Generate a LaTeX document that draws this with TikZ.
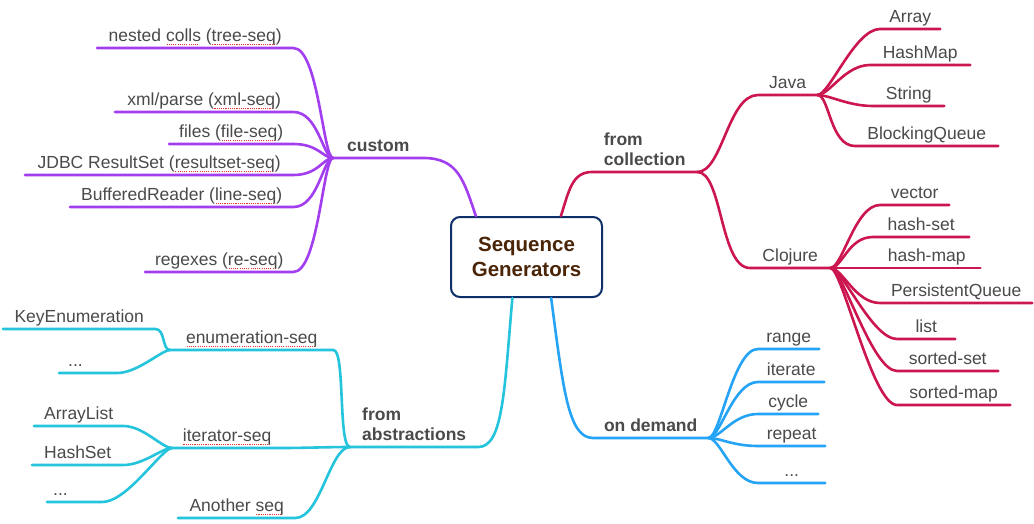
\documentclass[tikz,border=0pt]{standalone}
\usepackage{fontspec}
\setmainfont{Liberation Sans}
\usetikzlibrary{positioning}
\definecolor{Ink}{HTML}{4A4A4A}
\definecolor{RootLine}{HTML}{0E2F6A}
\definecolor{RootText}{HTML}{4A2508}
\definecolor{Custom}{HTML}{A23DF0}
\definecolor{Coll}{HTML}{CC1650}
\definecolor{Demand}{HTML}{25A4F6}
\definecolor{Abstr}{HTML}{24C4DC}
\definecolor{Squiggle}{HTML}{E8352E}
% red dotted mark under a word
\newcommand\spellmark[1]{\setbox0=\hbox{#1}\rlap{\color{Squiggle}\raisebox{-3.5pt}{\hbox to \wd0{\leaders\hbox to 2.2pt{\hss\rule{1.1pt}{1.1pt}\hss}\hfill}}}\box0\relax}
\tikzset{
  rootbox/.style={draw=RootLine,line width=2pt,fill=white,rounded corners=9pt,minimum width=151pt,minimum height=80pt,align=center,font=\fontsize{20.5}{25}\selectfont\bfseries,text=RootText},
  mainlabel/.style={font=\fontsize{17.5}{20}\selectfont\bfseries,text=Ink,align=left,inner xsep=0pt,inner ysep=2pt,text depth=4.5pt,anchor=south west},
  leaflabel/.style={font=\fontsize{17.5}{20}\selectfont,text=Ink,inner xsep=0pt,inner ysep=2pt,text height=13pt,text depth=4pt,anchor=south west},
  branch/.style={line width=2.6pt,line cap=round,line join=round}
}
\begin{document}
\begin{tikzpicture}[x=1pt,y=-1pt]
  \path[use as bounding box,fill=white] (0,0) rectangle (1034,524);
  \node[rootbox] (root) at (526.5,257) {Sequence\\Generators};

  % custom
  \node[mainlabel,minimum width=90pt,align=center] (custom) at (333,158) {custom};
  \node[leaflabel,minimum width=196pt] (nested) at (97,48) {nested \spellmark{colls} (\spellmark{tree-seq})};
  \node[leaflabel,minimum width=178pt] (xmlparse) at (115,112) {xml/parse (\spellmark{xml-seq})};
  \node[leaflabel,minimum width=124pt] (files) at (169,144) {files (\spellmark{file-seq})};
  \node[leaflabel,minimum width=268pt] (jdbc) at (25,175) {JDBC ResultSet (\spellmark{resultset-seq})};
  \node[leaflabel,minimum width=223pt] (buffered) at (70,207) {BufferedReader (\spellmark{line-seq})};
  \node[leaflabel,minimum width=148pt] (regexes) at (145,272) {regexes (\spellmark{re-seq})};
  \draw[branch,Custom] (root.141) .. controls +(-12,-35) and +(35,0) .. (custom.south east) -- (custom.south west);
  \draw[branch,Custom] (custom.south west) .. controls +(-10,0) and +(25,0) .. (nested.south east) -- (nested.south west);
  \draw[branch,Custom] (custom.south west) .. controls +(-10,0) and +(25,0) .. (xmlparse.south east) -- (xmlparse.south west);
  \draw[branch,Custom] (custom.south west) .. controls +(-10,0) and +(25,0) .. (files.south east) -- (files.south west);
  \draw[branch,Custom] (custom.south west) .. controls +(-10,0) and +(25,0) .. (jdbc.south east) -- (jdbc.south west);
  \draw[branch,Custom] (custom.south west) .. controls +(-10,0) and +(25,0) .. (buffered.south east) -- (buffered.south west);
  \draw[branch,Custom] (custom.south west) .. controls +(-10,0) and +(25,0) .. (regexes.south east) -- (regexes.south west);

  % from collection
  \node[mainlabel,minimum width=105pt] (fromcoll) at (592,172) {from\\collection};
  \node[leaflabel,minimum width=59pt] (java) at (758,95) {Java};
  \node[leaflabel,minimum width=80pt] (clojure) at (750,268) {Clojure};
  \node[leaflabel,minimum width=60pt] (array) at (880,29) {Array};
  \node[leaflabel,minimum width=100pt] (hashmap) at (870,65) {HashMap};
  \node[leaflabel,minimum width=71pt] (string) at (873,106) {String};
  \node[leaflabel,minimum width=143pt] (blocking) at (855,146) {BlockingQueue};
  \node[leaflabel,minimum width=69pt] (vector) at (880,205) {vector};
  \node[leaflabel,minimum width=96pt] (hset) at (873,237) {hash-set};
  \node[leaflabel,minimum width=107pt] (hmap) at (873,268) {hash-map};
  \node[leaflabel,minimum width=152pt] (pqueue) at (880,303) {PersistentQueue};
  \node[leaflabel,minimum width=58pt] (list) at (897,339) {list};
  \node[leaflabel,minimum width=101pt] (sset) at (897,371) {sorted-set};
  \node[leaflabel,minimum width=113pt] (smap) at (897,405) {sorted-map};
  \draw[branch,Coll] (root.50) .. controls +(8,-25) and +(-20,0) .. (fromcoll.south west) -- (fromcoll.south east);
  \draw[branch,Coll] (fromcoll.south east) .. controls +(25,0) and +(-30,0) .. (java.south west) -- (java.south east);
  \draw[branch,Coll] (fromcoll.south east) .. controls +(25,0) and +(-30,0) .. (clojure.south west) -- (clojure.south east);
  \draw[branch,Coll] (java.south east) .. controls +(12,0) and +(-25,0) .. (array.south west) -- (array.south east);
  \draw[branch,Coll] (java.south east) .. controls +(12,0) and +(-25,0) .. (hashmap.south west) -- (hashmap.south east);
  \draw[branch,Coll] (java.south east) .. controls +(12,0) and +(-25,0) .. (string.south west) -- (string.south east);
  \draw[branch,Coll] (java.south east) .. controls +(12,0) and +(-25,0) .. (blocking.south west) -- (blocking.south east);
  \draw[branch,Coll] (clojure.south east) .. controls +(12,0) and +(-25,0) .. (vector.south west) -- (vector.south east);
  \draw[branch,Coll] (clojure.south east) .. controls +(12,0) and +(-25,0) .. (hset.south west) -- (hset.south east);
  \draw[branch,Coll] (clojure.south east) -- (hmap.south west) -- (hmap.south east);
  \draw[branch,Coll] (clojure.south east) .. controls +(12,0) and +(-25,0) .. (pqueue.south west) -- (pqueue.south east);
  \draw[branch,Coll] (clojure.south east) .. controls +(12,0) and +(-25,0) .. (list.south west) -- (list.south east);
  \draw[branch,Coll] (clojure.south east) .. controls +(12,0) and +(-25,0) .. (sset.south west) -- (sset.south east);
  \draw[branch,Coll] (clojure.south east) .. controls +(12,0) and +(-25,0) .. (smap.south west) -- (smap.south east);

  % on demand
  \node[mainlabel,minimum width=115pt,align=center] (ondemand) at (593,438) {on demand};
  \node[leaflabel,minimum width=61pt] (range) at (758,349) {range};
  \node[leaflabel,minimum width=66pt] (iterate) at (758,382) {iterate};
  \node[leaflabel,minimum width=60pt] (cycle) at (758,414) {cycle};
  \node[leaflabel,minimum width=67pt] (repeat) at (758,446) {repeat};
  \node[leaflabel,minimum width=67pt] (ddots) at (758,483) {...};
  \draw[branch,Demand] (root.-59) .. controls +(12,90) and +(-25,0) .. (ondemand.south west) -- (ondemand.south east);
  \draw[branch,Demand] (ondemand.south east) .. controls +(12,0) and +(-25,0) .. (range.south west) -- (range.south east);
  \draw[branch,Demand] (ondemand.south east) .. controls +(12,0) and +(-25,0) .. (iterate.south west) -- (iterate.south east);
  \draw[branch,Demand] (ondemand.south east) .. controls +(12,0) and +(-25,0) .. (cycle.south west) -- (cycle.south east);
  \draw[branch,Demand] (ondemand.south east) .. controls +(12,0) and +(-25,0) .. (repeat.south west) -- (repeat.south east);
  \draw[branch,Demand] (ondemand.south east) .. controls +(12,0) and +(-25,0) .. (ddots.south west) -- (ddots.south east);

  % from abstractions
  \node[mainlabel,minimum width=128pt] (fromabs) at (350,447) {from\\abstractions};
  \node[leaflabel,minimum width=163pt] (enumseq) at (170,350) {\spellmark{enumeration-seq}};
  \node[leaflabel,minimum width=110pt] (iterseq) at (172,448) {\spellmark{iterator-seq}};
  \node[leaflabel,minimum width=117pt] (another) at (178,518) {Another \spellmark{seq}};
  \node[leaflabel,minimum width=152pt] (keyenum) at (3,329) {KeyEnumeration};
  \node[leaflabel,minimum width=58pt,text width=40pt,align=left] (edots) at (59,373) {...};
  \node[leaflabel,minimum width=89pt] (arraylist) at (34,426) {ArrayList};
  \node[leaflabel,minimum width=91pt] (hashset) at (32,465) {HashSet};
  \node[leaflabel,minimum width=55pt,text width=43pt,align=left] (idots) at (47,502) {...};
  \draw[branch,Abstr] (root.251) .. controls +(-8,90) and +(25,0) .. (fromabs.south east) -- (fromabs.south west);
  \draw[branch,Abstr] (fromabs.south west) .. controls +(-12,0) and +(12,0) .. (enumseq.south east) -- (enumseq.south west);
  \draw[branch,Abstr] (fromabs.south west) .. controls +(-20,0) and +(20,0) .. (iterseq.south east) -- (iterseq.south west);
  \draw[branch,Abstr] (fromabs.south west) .. controls +(-20,0) and +(25,0) .. (another.south east) -- (another.south west);
  \draw[branch,Abstr] (enumseq.south west) .. controls +(-8,0) and +(10,0) .. (keyenum.south east) -- (keyenum.south west);
  \draw[branch,Abstr] (enumseq.south west) .. controls +(-8,0) and +(20,0) .. (edots.south east) -- (edots.south west);
  \draw[branch,Abstr] (iterseq.south west) .. controls +(-10,0) and +(20,0) .. (arraylist.south east) -- (arraylist.south west);
  \draw[branch,Abstr] (iterseq.south west) .. controls +(-10,0) and +(20,0) .. (hashset.south east) -- (hashset.south west);
  \draw[branch,Abstr] (iterseq.south west) .. controls +(-10,0) and +(25,0) .. (idots.south east) -- (idots.south west);
\end{tikzpicture}
\end{document}
